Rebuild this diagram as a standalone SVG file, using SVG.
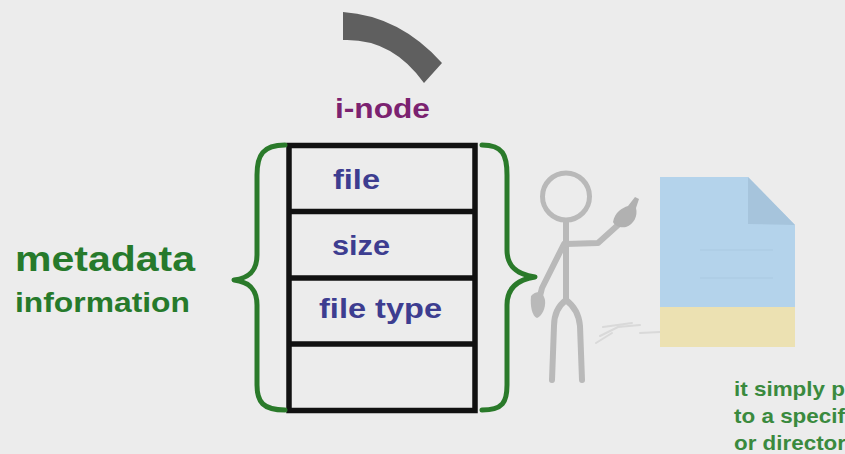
<svg xmlns="http://www.w3.org/2000/svg" width="845" height="454" viewBox="0 0 845 454">
  <defs>
    <style>
      .bg { fill: #ececec; }
      .cell { fill: none; stroke: #111111; stroke-width: 5.5; }
      .brace { fill: none; stroke: #2a7a2a; stroke-width: 5; stroke-linecap: round; stroke-linejoin: round; }
      .field { font-family: "Liberation Sans", Arial, sans-serif; font-weight: bold; font-size: 27px; fill: #3d3d90; }
      .title { font-family: "Liberation Sans", Arial, sans-serif; font-weight: bold; font-size: 27px; fill: #7b2270; }
      .meta { font-family: "Liberation Sans", Arial, sans-serif; font-weight: bold; fill: #267a2b; }
      .note { font-family: "Liberation Sans", Arial, sans-serif; font-weight: bold; font-size: 21px; fill: #3a8a3e; }
      .limb { fill: none; stroke: #b9b9b9; stroke-width: 6; stroke-linecap: round; stroke-linejoin: round; }
      .faint { fill: none; stroke: #d9d9d9; stroke-width: 2; stroke-linecap: round; }
    </style>
  </defs>

  <rect class="bg" x="0" y="0" width="845" height="454"/>

  <!-- thick grey arc segment at the top -->
  <path d="M343,12 Q400,16 442,63 L424,83 Q392,38 343,40 Z" fill="#5f5f5f"/>

  <!-- i-node table -->
  <g id="inode">
    <text class="title" x="335" y="118" textLength="95" lengthAdjust="spacingAndGlyphs">i-node</text>
    <rect class="cell" x="289" y="145.5" width="186" height="265"/>
    <line class="cell" x1="289" y1="211.5" x2="475" y2="211.5"/>
    <line class="cell" x1="289" y1="278" x2="475" y2="278"/>
    <line class="cell" x1="289" y1="344" x2="475" y2="344"/>
    <text class="field" x="333" y="189" textLength="47" lengthAdjust="spacingAndGlyphs">file</text>
    <text class="field" x="332" y="255" textLength="58" lengthAdjust="spacingAndGlyphs">size</text>
    <text class="field" x="319" y="318" textLength="123" lengthAdjust="spacingAndGlyphs">file type</text>
  </g>

  <!-- curly braces around the table -->
  <g id="braces">
    <path class="brace" d="M285,145 C263,145 257,155 257,175 L257,255 C257,270 250,278 234,280 C250,282 257,290 257,305 L257,385 C257,402 263,410 285,410"/>
    <path class="brace" d="M482,145 C503,145 507,155 507,175 L507,250 C507,265 515,274 535,277 C515,280 507,290 507,305 L507,385 C507,402 503,410 482,410"/>
  </g>

  <!-- metadata label -->
  <g id="metadata">
    <text class="meta" x="15" y="271" font-size="35" textLength="180" lengthAdjust="spacingAndGlyphs">metadata</text>
    <text class="meta" x="15" y="312" font-size="27" textLength="175" lengthAdjust="spacingAndGlyphs">information</text>
  </g>

  <!-- stick figure -->
  <g id="figure">
    <circle cx="566" cy="196.5" r="23.5" fill="none" stroke="#b9b9b9" stroke-width="5"/>
    <path class="limb" d="M566,221 L566,300"/>
    <path class="limb" d="M566,300 C558,306 554,314 554,326 L552,380"/>
    <path class="limb" d="M566,300 C574,306 579,314 580,326 L582,380"/>
    <path class="limb" d="M564,244 L542,288 L537,308"/>
    <path d="M531,296 C536,290 543,291 545,300 C546,308 542,316 537,318 C532,316 530,306 531,296 Z" fill="#b9b9b9"/>
    <path class="limb" d="M566,244 L598,243 L618,225"/>
    <path d="M613,222 C615,212 622,208 628,206 L635,197 L639,199 L636,208 C638,216 634,224 626,227 C620,228 615,226 613,222 Z" fill="#b1b1b1"/>
    <!-- faint sketch strokes near the feet -->
    <path class="faint" d="M603,327 L632,323 M600,336 L618,327 L640,325 M596,343 L612,333 M640,333 L660,332"/>
  </g>

  <!-- document icon -->
  <g id="document">
    <path d="M660,177 L748,177 L795,225 L795,307 L660,307 Z" fill="#b4d3eb"/>
    <path d="M748,177 L748,224 L795,225 Z" fill="#a6c4dc"/>
    <rect x="660" y="307" width="135" height="40" fill="#ece1b2"/>
    <line x1="700" y1="250" x2="773" y2="250" stroke="#aecde5" stroke-width="1.5"/>
    <line x1="700" y1="278" x2="773" y2="278" stroke="#aecde5" stroke-width="1.5"/>
  </g>

  <!-- caption at bottom right -->
  <g id="caption">
    <text class="note" x="734" y="396" textLength="111" lengthAdjust="spacingAndGlyphs">it simply p</text>
    <text class="note" x="734" y="423" textLength="111" lengthAdjust="spacingAndGlyphs">to a specif</text>
    <text class="note" x="734" y="450" textLength="112" lengthAdjust="spacingAndGlyphs">or director</text>
  </g>
</svg>
